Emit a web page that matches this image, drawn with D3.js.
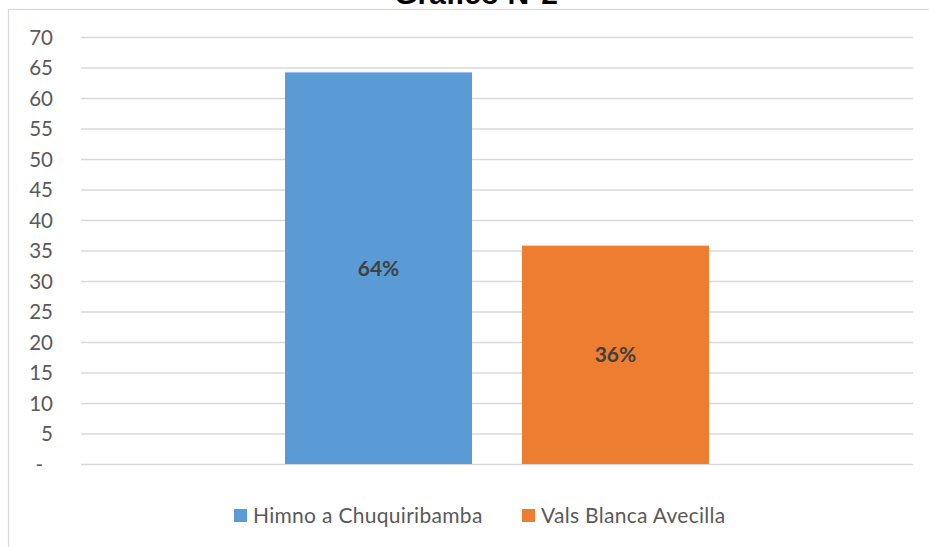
<!DOCTYPE html>
<html>
<head>
<meta charset="utf-8">
<script src="https://cdn.jsdelivr.net/npm/d3@7"></script>
<style>
  html, body { margin: 0; padding: 0; background: #fff; }
  svg { display: block; }
</style>
</head>
<body>
<svg id="chart" width="929" height="547"></svg>
<script>
const title = 'Gráfico N°2'
const series = ['Himno a Chuquiribamba', 'Vals Blanca Avecilla']
const values = [64.2, 35.8]
const labels = ['64%', '36%']
const colors = ['#5B9BD5', '#ED7D31']
const yTicks = [0, 5, 10, 15, 20, 25, 30, 35, 40, 45, 50, 55, 60, 65, 70]

const width = 929, height = 547
const margin = {top: 37, right: 16, bottom: 83, left: 81}
const innerWidth = width - margin.left - margin.right
const innerHeight = height - margin.top - margin.bottom
const textFont = 'Lato, "Open Sans", sans-serif'

const svg = d3.select('#chart')

// chart frame
svg.append('rect')
    .attr('x', 8.5).attr('y', 9.5)
    .attr('width', 940).attr('height', 560)
    .attr('fill', '#fff')
    .attr('stroke', '#d9d9d9')
    .attr('stroke-width', 1.2)

// title
svg.append('text')
    .attr('x', 476).attr('y', 3.5)
    .attr('text-anchor', 'middle')
    .attr('font-family', '"Liberation Sans", Arial, sans-serif')
    .attr('font-weight', 'bold')
    .attr('font-size', 30)
    .attr('fill', '#000')
    .text(title)

const g = svg.append('g')
    .attr('transform', `translate(${margin.left},${margin.top})`)

const yScale = d3.scaleLinear()
    .domain([0, 70])
    .range([innerHeight, 0])

const xScale = d3.scaleBand()
    .domain(series)
    .range([0, innerWidth])
    .paddingInner(0.211)
    .paddingOuter(0.861)

// y axis + gridlines
const yAxis = g.append('g')
    .call(d3.axisLeft(yScale)
        .tickValues(yTicks)
        .tickSize(-innerWidth)
        .tickPadding(28)
        .tickFormat(d => d === 0 ? '-' : d))
yAxis.select('.domain').remove()
yAxis.selectAll('.tick line')
    .attr('stroke', '#d9d9d9')
    .attr('stroke-width', 1.5)
yAxis.selectAll('.tick text')
    .attr('font-family', textFont)
    .attr('font-size', 20.5)
    .attr('fill', '#595959')
    .attr('dx', d => d === 0 ? -10 : 0)
    .attr('dy', '0.35em')

// bars
g.selectAll('.bar')
    .data(values)
    .join('rect')
    .attr('class', 'bar')
    .attr('x', (d, i) => xScale(series[i]))
    .attr('y', d => yScale(d))
    .attr('width', xScale.bandwidth())
    .attr('height', d => innerHeight - yScale(d))
    .attr('fill', (d, i) => colors[i])

// data labels
g.selectAll('.label')
    .data(values)
    .join('text')
    .attr('class', 'label')
    .attr('x', (d, i) => xScale(series[i]) + xScale.bandwidth() / 2)
    .attr('y', d => yScale(d / 2))
    .attr('dy', '0.35em')
    .attr('text-anchor', 'middle')
    .attr('font-family', textFont)
    .attr('font-weight', 'bold')
    .attr('font-size', 21)
    .attr('fill', '#404040')
    .text((d, i) => labels[i])

// legend
const legend = svg.append('g')
    .attr('transform', 'translate(234,509)')
const legendX = [0, 288]
const item = legend.selectAll('g')
    .data(series)
    .join('g')
    .attr('transform', (d, i) => `translate(${legendX[i]},0)`)
item.append('rect')
    .attr('width', 13).attr('height', 13)
    .attr('fill', (d, i) => colors[i])
item.append('text')
    .attr('x', 19).attr('y', 6.5)
    .attr('dy', '0.35em')
    .attr('font-family', textFont)
    .attr('font-size', 21)
    .attr('letter-spacing', 0.3)
    .attr('fill', '#595959')
    .text(d => d)
</script>
</body>
</html>
